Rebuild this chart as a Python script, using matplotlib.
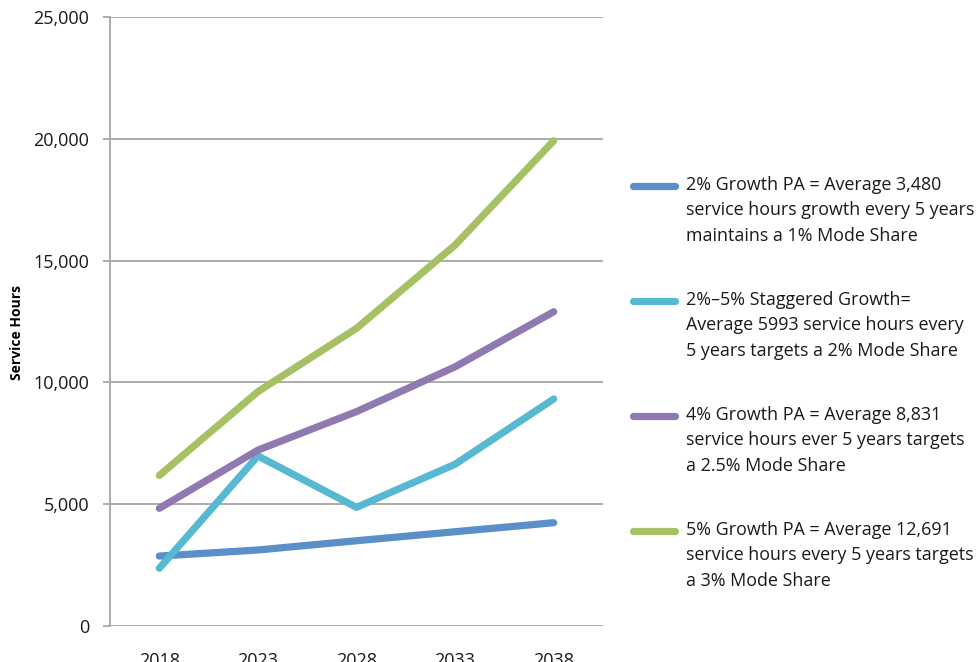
import matplotlib
matplotlib.use("Agg")
from matplotlib import pyplot as plt
from matplotlib.lines import Line2D
from matplotlib.ticker import FuncFormatter

plt.rcParams['font.family'] = ['Open Sans', 'DejaVu Sans']

years = ['2018', '2023', '2028', '2033', '2038']
growth_2pct = [2870, 3120, 3500, 3870, 4240]
staggered = [2370, 6980, 4870, 6640, 9320]
growth_4pct = [4830, 7220, 8800, 10640, 12900]
growth_5pct = [6180, 9620, 12220, 15640, 19920]

series_labels = [
    '2% Growth PA = Average 3,480\nservice hours growth every 5 years\nmaintains a 1% Mode Share',
    '2%\u20135% Staggered Growth=\nAverage 5993 service hours every\n5 years targets a 2% Mode Share',
    '4% Growth PA = Average 8,831\nservice hours ever 5 years targets\na 2.5% Mode Share',
    '5% Growth PA = Average 12,691\nservice hours every 5 years targets\na 3% Mode Share',
]
colors = ['#5b8fc9', '#56b9d1', '#9079b1', '#a6c164']

fig = plt.figure(figsize=(9.8, 6.62), dpi=100)
ax = fig.add_axes([110 / 980, 1 - 626 / 662, 493 / 980, 609 / 662])

x = range(len(years))
for vals, c in zip([growth_2pct, staggered, growth_4pct, growth_5pct], colors):
    ax.plot(x, vals, color=c, lw=5.2, solid_capstyle='round',
            solid_joinstyle='round', zorder=3, clip_on=False)

grid_c = '#a6a6a6'
ax.set_xlim(-0.5, len(years) - 0.5)
ax.set_ylim(0, 25000)
ax.set_yticks(range(0, 25001, 5000))
ax.yaxis.set_major_formatter(FuncFormatter(lambda v, p: f'{int(v):,}'))
ax.set_xticks(list(x))
ax.set_xticklabels(years)
ax.grid(axis='y', color=grid_c, lw=1.3)
ax.set_axisbelow(True)
for s in ['top', 'right', 'bottom']:
    ax.spines[s].set_visible(False)
ax.spines['left'].set_color(grid_c)
ax.spines['left'].set_linewidth(1.3)
ax.tick_params(axis='y', color=grid_c, width=1.3, length=5, pad=10,
               labelsize=13, labelcolor='#1a1a1a')
ax.tick_params(axis='x', length=0, pad=19, labelsize=13, labelcolor='#1a1a1a')

fig.text(17 / 980, 1 - 333 / 662, 'Service Hours', rotation=90, ha='center',
         va='center', fontsize=10, fontweight='bold',
         family=['Liberation Sans Narrow', 'Open Sans', 'DejaVu Sans'])

# legend drawn by hand so each swatch sits on the first line of its label
row_y = [186, 301, 416, 531]
for ly, c, lab in zip(row_y, colors, series_labels):
    fy = 1 - ly / 662
    fig.add_artist(Line2D([633 / 980, 675 / 980], [fy, fy], color=c, lw=5.2,
                          solid_capstyle='round', transform=fig.transFigure))
    fig.text(686 / 980, 1 - (ly - 10) / 662, lab, ha='left', va='top',
             fontsize=12.9, color='#1a1a1a', linespacing=1.52)

fig.savefig('out.png', dpi=100)
